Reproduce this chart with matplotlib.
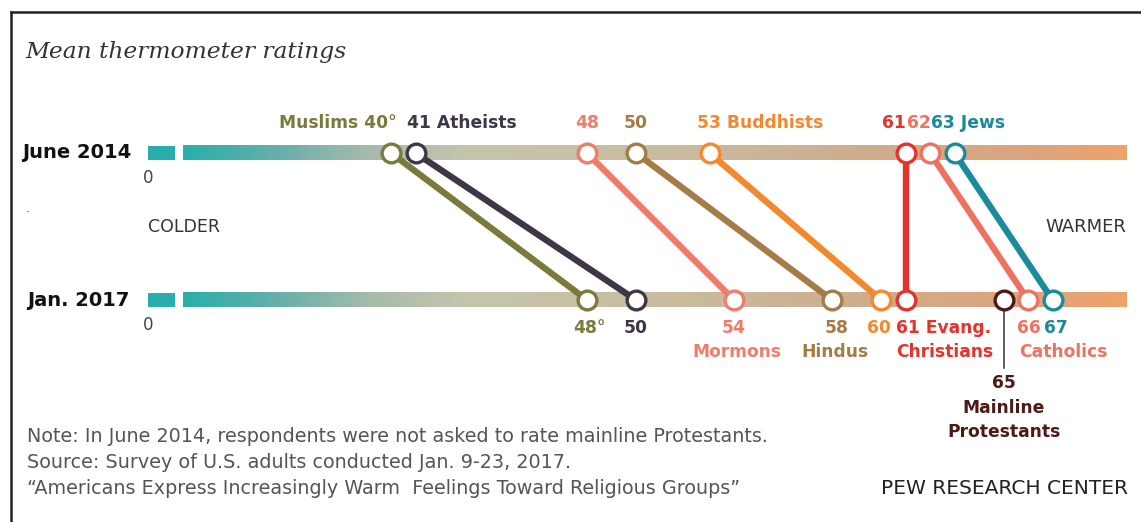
import matplotlib.pyplot as plt
import numpy as np
from matplotlib.colors import LinearSegmentedColormap

# Mean thermometer ratings (0-100) for each group
groups = ["Muslims", "Atheists", "Mormons", "Hindus", "Buddhists",
          "Evang. Christians", "Catholics", "Jews", "Mainline Protestants"]
june_2014 = [40, 41, 48, 50, 53, 61, 62, 63, None]
jan_2017 = [48, 50, 54, 58, 60, 61, 66, 67, 65]
colors = ["#7b7a3c", "#3f3748", "#f07c6c", "#a57c45", "#f2892e",
          "#e5322b", "#ee7262", "#1b8b9b", "#4e1a16"]
row_labels = ["June 2014", "Jan. 2017"]

notes = [
    "Note: In June 2014, respondents were not asked to rate mainline Protestants.",
    "Source: Survey of U.S. adults conducted Jan. 9-23, 2017.",
    "\u201cAmericans Express Increasingly Warm  Feelings Toward Religious Groups\u201d",
]

FONT = ["DejaVu Sans"]
W, H = 1141, 522
ROW_Y = [153, 300]          # vertical pixel rows of the two scales
BREAK_LO, BREAK_HI = 30.1, 31.2   # little "0" stub before the axis break
BAR_LO, BAR_HI = 31.5, 70.0

fig = plt.figure(figsize=(W / 100, H / 100), dpi=100)
fig.patch.set_facecolor("white")
ax = fig.add_axes([0, 0, 1, 1])
ax.axis("off")
XLIM = (24.04, 70.61)

# gradient thermometer bars
bar_cmap = LinearSegmentedColormap.from_list("thermo", [
    (0.00, "#2aaeab"), (0.09, "#62aeaa"), (0.20, "#a8bbac"),
    (0.30, "#c5c5ab"), (0.535, "#c9bb9e"), (0.74, "#cfac8c"),
    (0.90, "#dca47c"), (1.00, "#eea26a")])
grad = np.linspace(0, 1, 400).reshape(1, -1)
for y in ROW_Y:
    ax.imshow(grad, cmap=bar_cmap, aspect="auto", zorder=1,
              extent=(BAR_LO, BAR_HI, y + 7.5, y - 7.5))
    ax.fill_between([BREAK_LO, BREAK_HI], y - 7, y + 7, color="#2aaeab",
                    lw=0, zorder=1)
    ax.text(BREAK_LO, y + 25, "0", ha="center", va="center", fontsize=12,
            color="#444444", family=FONT)

for lab, y, x0 in zip(row_labels, ROW_Y, [22, 27]):
    ax.text(24.04 + x0 / 24.5, y, lab, ha="left", va="center", fontsize=14,
            fontweight="bold", color="#111111", family=FONT)

# slopes + markers
for g, a, b, c in zip(groups, june_2014, jan_2017, colors):
    if a is not None:
        ax.plot([a, b], ROW_Y, color=c, lw=4.6, solid_capstyle="butt", zorder=3)
        ax.plot([a], [ROW_Y[0]], marker="o", ms=13.5, mfc="white", mec=c,
                mew=2.4, zorder=5)
    ax.plot([b], [ROW_Y[1]], marker="o", ms=13.5, mfc="white", mec=c,
            mew=2.4, zorder=5)

# Mainline Protestants leader line
ax.plot([jan_2017[8]] * 2, [311, 368], color="#333333", lw=1.1, zorder=2)

lab_kw = dict(va="center", fontsize=12.3, fontweight="bold", family=FONT)
ty = 123
ax.text(june_2014[0] + 0.25, ty, "Muslims 40\u00b0", ha="right", color=colors[0], **lab_kw)
ax.text(june_2014[1] - 0.33, ty, "41 Atheists", ha="left", color=colors[1], **lab_kw)
ax.text(june_2014[2], ty, "48", ha="center", color=colors[2], **lab_kw)
ax.text(june_2014[3], ty, "50", ha="center", color=colors[3], **lab_kw)
ax.text(june_2014[4] - 0.5, ty, "53 Buddhists", ha="left", color=colors[4], **lab_kw)
ax.text(june_2014[5] + 0.02, ty, "61", ha="right", color=colors[5], **lab_kw)
ax.text(june_2014[6] - 0.93, ty, "62", ha="left", color=colors[6], **lab_kw)
ax.text(june_2014[7] - 0.95, ty, "63 Jews", ha="left", color=colors[7], **lab_kw)

by, by2 = 328, 352
ax.text(jan_2017[0] + 0.1, by, "48\u00b0", ha="center", color=colors[0], **lab_kw)
ax.text(jan_2017[1], by, "50", ha="center", color=colors[1], **lab_kw)
ax.text(jan_2017[2], by, "54", ha="center", color=colors[2], **lab_kw)
ax.text(jan_2017[2] + 0.1, by2, "Mormons", ha="center", color=colors[2], **lab_kw)
ax.text(jan_2017[3] + 0.2, by, "58", ha="center", color=colors[3], **lab_kw)
ax.text(jan_2017[3] + 0.1, by2, "Hindus", ha="center", color=colors[3], **lab_kw)
ax.text(jan_2017[4] + 0.4, by, "60", ha="right", color=colors[4], **lab_kw)
ax.text(jan_2017[5] - 0.37, by, "61 Evang.", ha="left", color=colors[5], **lab_kw)
ax.text(jan_2017[5] - 0.37, by2, "Christians", ha="left", color=colors[5], **lab_kw)
ax.text(jan_2017[6] - 0.45, by, "66", ha="left", color=colors[6], **lab_kw)
ax.text(jan_2017[7] - 0.35, by, "67", ha="left", color=colors[7], **lab_kw)
ax.text(jan_2017[6] - 0.35, by2, "Catholics", ha="left", color=colors[6], **lab_kw)
for t, y in zip(["65", "Mainline", "Protestants"], [383, 408, 432]):
    ax.text(jan_2017[8], y, t, ha="center", color=colors[8], **lab_kw)

ax.text(BREAK_LO, 227, "COLDER", ha="left", va="center", fontsize=12.5,
        color="#333333", family=FONT)
ax.text(70.0, 227, "WARMER", ha="right", va="center", fontsize=13,
        color="#333333", family=FONT)
ax.text(24.04 + 28 / 24.5, 209, ".", ha="center", va="center", fontsize=9,
        color="#333333")

ax.set_xlim(*XLIM)
ax.set_ylim(H, 0)

# title, notes, credit
fig.text(25 / W, 1 - 52 / H, "Mean thermometer ratings", ha="left", va="center",
         fontsize=16.8, style="italic", family="DejaVu Serif", color="#333333")
for i, line in enumerate(notes):
    fig.text(27 / W, 1 - (436 + 26.5 * i) / H, line, ha="left", va="center",
             fontsize=13.8, color="#555555", family=FONT)
fig.text(1128 / W, 1 - 489 / H, "PEW RESEARCH CENTER", ha="right", va="center",
         fontsize=14.5, color="#222222", family=FONT)

# frame
fig.add_artist(plt.Line2D([11 / W, 1], [1 - 12 / H] * 2, transform=fig.transFigure,
                          color="#222222", lw=1.8))
fig.add_artist(plt.Line2D([11 / W] * 2, [0, 1 - 12 / H], transform=fig.transFigure,
                          color="#222222", lw=1.8))

fig.savefig("out.png", dpi=100)
